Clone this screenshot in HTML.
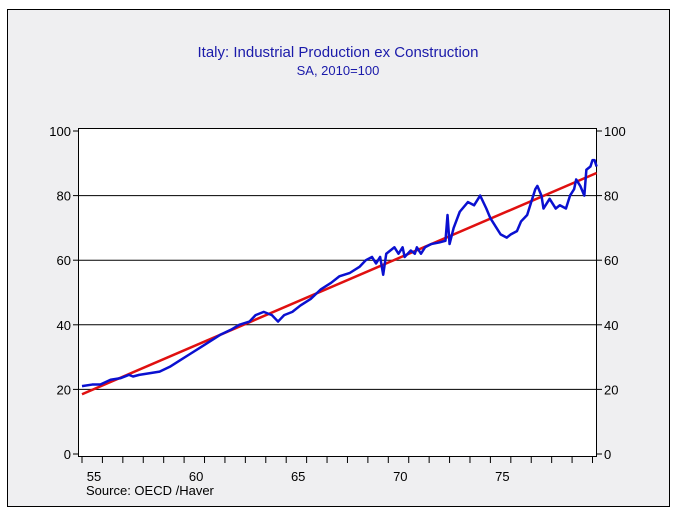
<!DOCTYPE html>
<html><head><meta charset="utf-8"><style>
body{margin:0;background:#fff;}
svg{display:block;font-family:"Liberation Sans",sans-serif;}
</style></head><body>
<svg id="c" width="677" height="517">
<rect x="7.5" y="9.5" width="662" height="497" fill="#efeff1" stroke="#000"/>
<text x="338" y="57" text-anchor="middle" font-size="15" fill="#1a1aaa">Italy: Industrial Production ex Construction</text>
<text x="338" y="75" text-anchor="middle" font-size="13" fill="#1a1aaa">SA, 2010=100</text>
<rect x="78.5" y="128.5" width="518" height="328" fill="#fff" stroke="#000"/>
<g id="grid"></g><g id="ticks"></g><g id="series"></g>
<text x="86" y="495" font-size="13" fill="#000">Source:  OECD /Haver</text>
</svg>
<script>
const yTicks=[0,20,40,60,80,100];
const xLabels=[55,60,65,70,75];
const blueYears=[1955,1955.5,1955.9,1956.4,1956.9,1957.3,1957.5,1957.8,1958.3,1958.8,1959.3,1959.8,1960.3,1960.8,1961.3,1961.8,1962.3,1962.7,1963.2,1963.5,1963.9,1964.3,1964.6,1964.9,1965.3,1965.7,1966.2,1966.7,1967.2,1967.6,1968.1,1968.6,1968.9,1969.2,1969.4,1969.6,1969.75,1969.9,1970.1,1970.3,1970.5,1970.7,1970.8,1971.1,1971.3,1971.4,1971.6,1971.8,1972.1,1972.5,1972.8,1972.9,1973.0,1973.2,1973.5,1973.9,1974.2,1974.5,1974.8,1975.0,1975.3,1975.5,1975.8,1976.0,1976.3,1976.5,1976.8,1977.0,1977.2,1977.3,1977.5,1977.6,1977.9,1978.2,1978.4,1978.7,1978.9,1979.1,1979.2,1979.4,1979.6,1979.7,1979.9,1980.0,1980.1,1980.2];
const blueValues=[21,21.5,21.5,23,23.5,24.5,24,24.5,25,25.5,27,29,31,33,35,37,38.5,40,41,43,44,43,41,43,44,46,48,51,53,55,56,58,60,61,59,61,55.5,62,63,64,62,64,61,63,62,64,62,64,65,65.5,66,74,65,70,75,78,77,80,76,73,70,68,67,68,69,72,74,78,82,83,80,76,79,76,77,76,80,82,85,83,80,88,89,91,91,89];
const trendYears=[1955,1980.2];
const trendValues=[18.5,87];
function X(yr){return 82+(yr-1955)*20.42;}
function Y(v){return 454-v*3.23;}
const NS='http://www.w3.org/2000/svg';
function mk(tag,attrs,parent){const e=document.createElementNS(NS,tag);for(const k in attrs)e.setAttribute(k,attrs[k]);parent.appendChild(e);return e;}
const grid=document.getElementById('grid'),ticks=document.getElementById('ticks'),series=document.getElementById('series');
yTicks.forEach(v=>{
 const y=Y(v);
 if(v>0&&v<100){const g=mk('line',{x1:79,x2:596,y1:y,y2:y,stroke:'#000','stroke-width':1},grid);
 
 }
 mk('line',{x1:73,x2:79,y1:y,y2:y,stroke:'#000'},ticks);
 mk('line',{x1:596,x2:602,y1:y,y2:y,stroke:'#000'},ticks);
 const l=mk('text',{x:71,y:y+5,'text-anchor':'end','font-size':13},ticks);l.textContent=v;
 
 
 const r=mk('text',{x:604,y:y+5,'font-size':13},ticks);r.textContent=v;
 
 
});
for(let yr=1955;yr<=1980;yr++){mk('line',{x1:X(yr),x2:X(yr),y1:457,y2:463,stroke:'#000'},ticks);}
xLabels.forEach(l=>{const t=mk('text',{x:X(1900+l)+12,y:481,'text-anchor':'middle','font-size':13},ticks);t.textContent=l;
 
 });
const tr=mk('polyline',{points:trendYears.map((y,i)=>X(y)+','+Y(trendValues[i])).join(' '),fill:'none',stroke:'#e01010','stroke-width':2.5},series);


const bl=mk('polyline',{points:blueYears.map((y,i)=>X(y)+','+Y(blueValues[i])).join(' '),fill:'none',stroke:'#0a10d0','stroke-width':2.5,'stroke-linejoin':'round'},series);


</script>
</body></html>
